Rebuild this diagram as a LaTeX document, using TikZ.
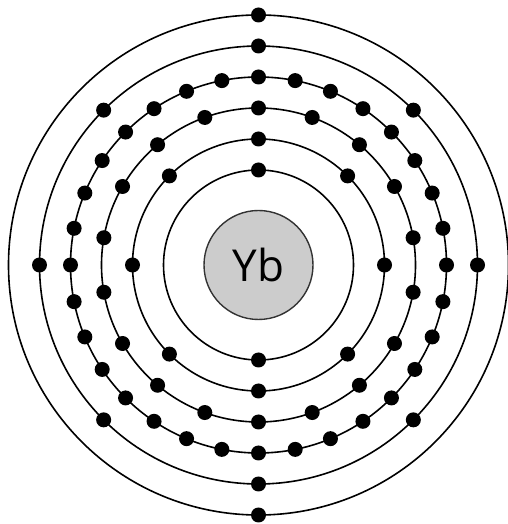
\documentclass[tikz,border=0pt]{standalone}
\usepackage{fontspec}
\setmainfont{Open Sans}
\usetikzlibrary{calc}
\begin{document}
\begin{tikzpicture}[x=1pt,y=1pt,
  shell/.style={draw=black,line width=1.6pt},
  electron/.style={circle,fill=black,inner sep=0pt,minimum size=15pt},
  nucleus/.style={circle,draw=black!80,line width=1.4pt,fill=black!20,minimum size=109pt,inner sep=0pt,font=\fontsize{44}{44}\selectfont}]
\useasboundingbox (0,0) rectangle (507,524);
\coordinate (c) at (258.5,259);
\foreach \r in {95,126,157,188,219,250}{
  \draw[shell] (c) circle[radius=\r];
}
\node[nucleus] (nuc) at (c) {Yb};
% shell 1: 2
\foreach \i in {0,1}{ \node[electron] (s1e\i) at ($(c)+({90+180*\i}:95)$) {}; }
% shell 2: 8
\foreach \i in {0,...,7}{ \node[electron] (s2e\i) at ($(c)+({90+45*\i}:126)$) {}; }
% shell 3: 18
\foreach \i in {0,...,17}{ \node[electron] (s3e\i) at ($(c)+({90+20*\i}:157)$) {}; }
% shell 4: 32
\foreach \i in {0,...,31}{ \node[electron] (s4e\i) at ($(c)+({90+11.25*\i}:188)$) {}; }
% shell 5: 8
\foreach \i in {0,...,7}{ \node[electron] (s5e\i) at ($(c)+({90+45*\i}:219)$) {}; }
% shell 6: 2
\foreach \i in {0,1}{ \node[electron] (s6e\i) at ($(c)+({90+180*\i}:250)$) {}; }
\end{tikzpicture}
\end{document}
